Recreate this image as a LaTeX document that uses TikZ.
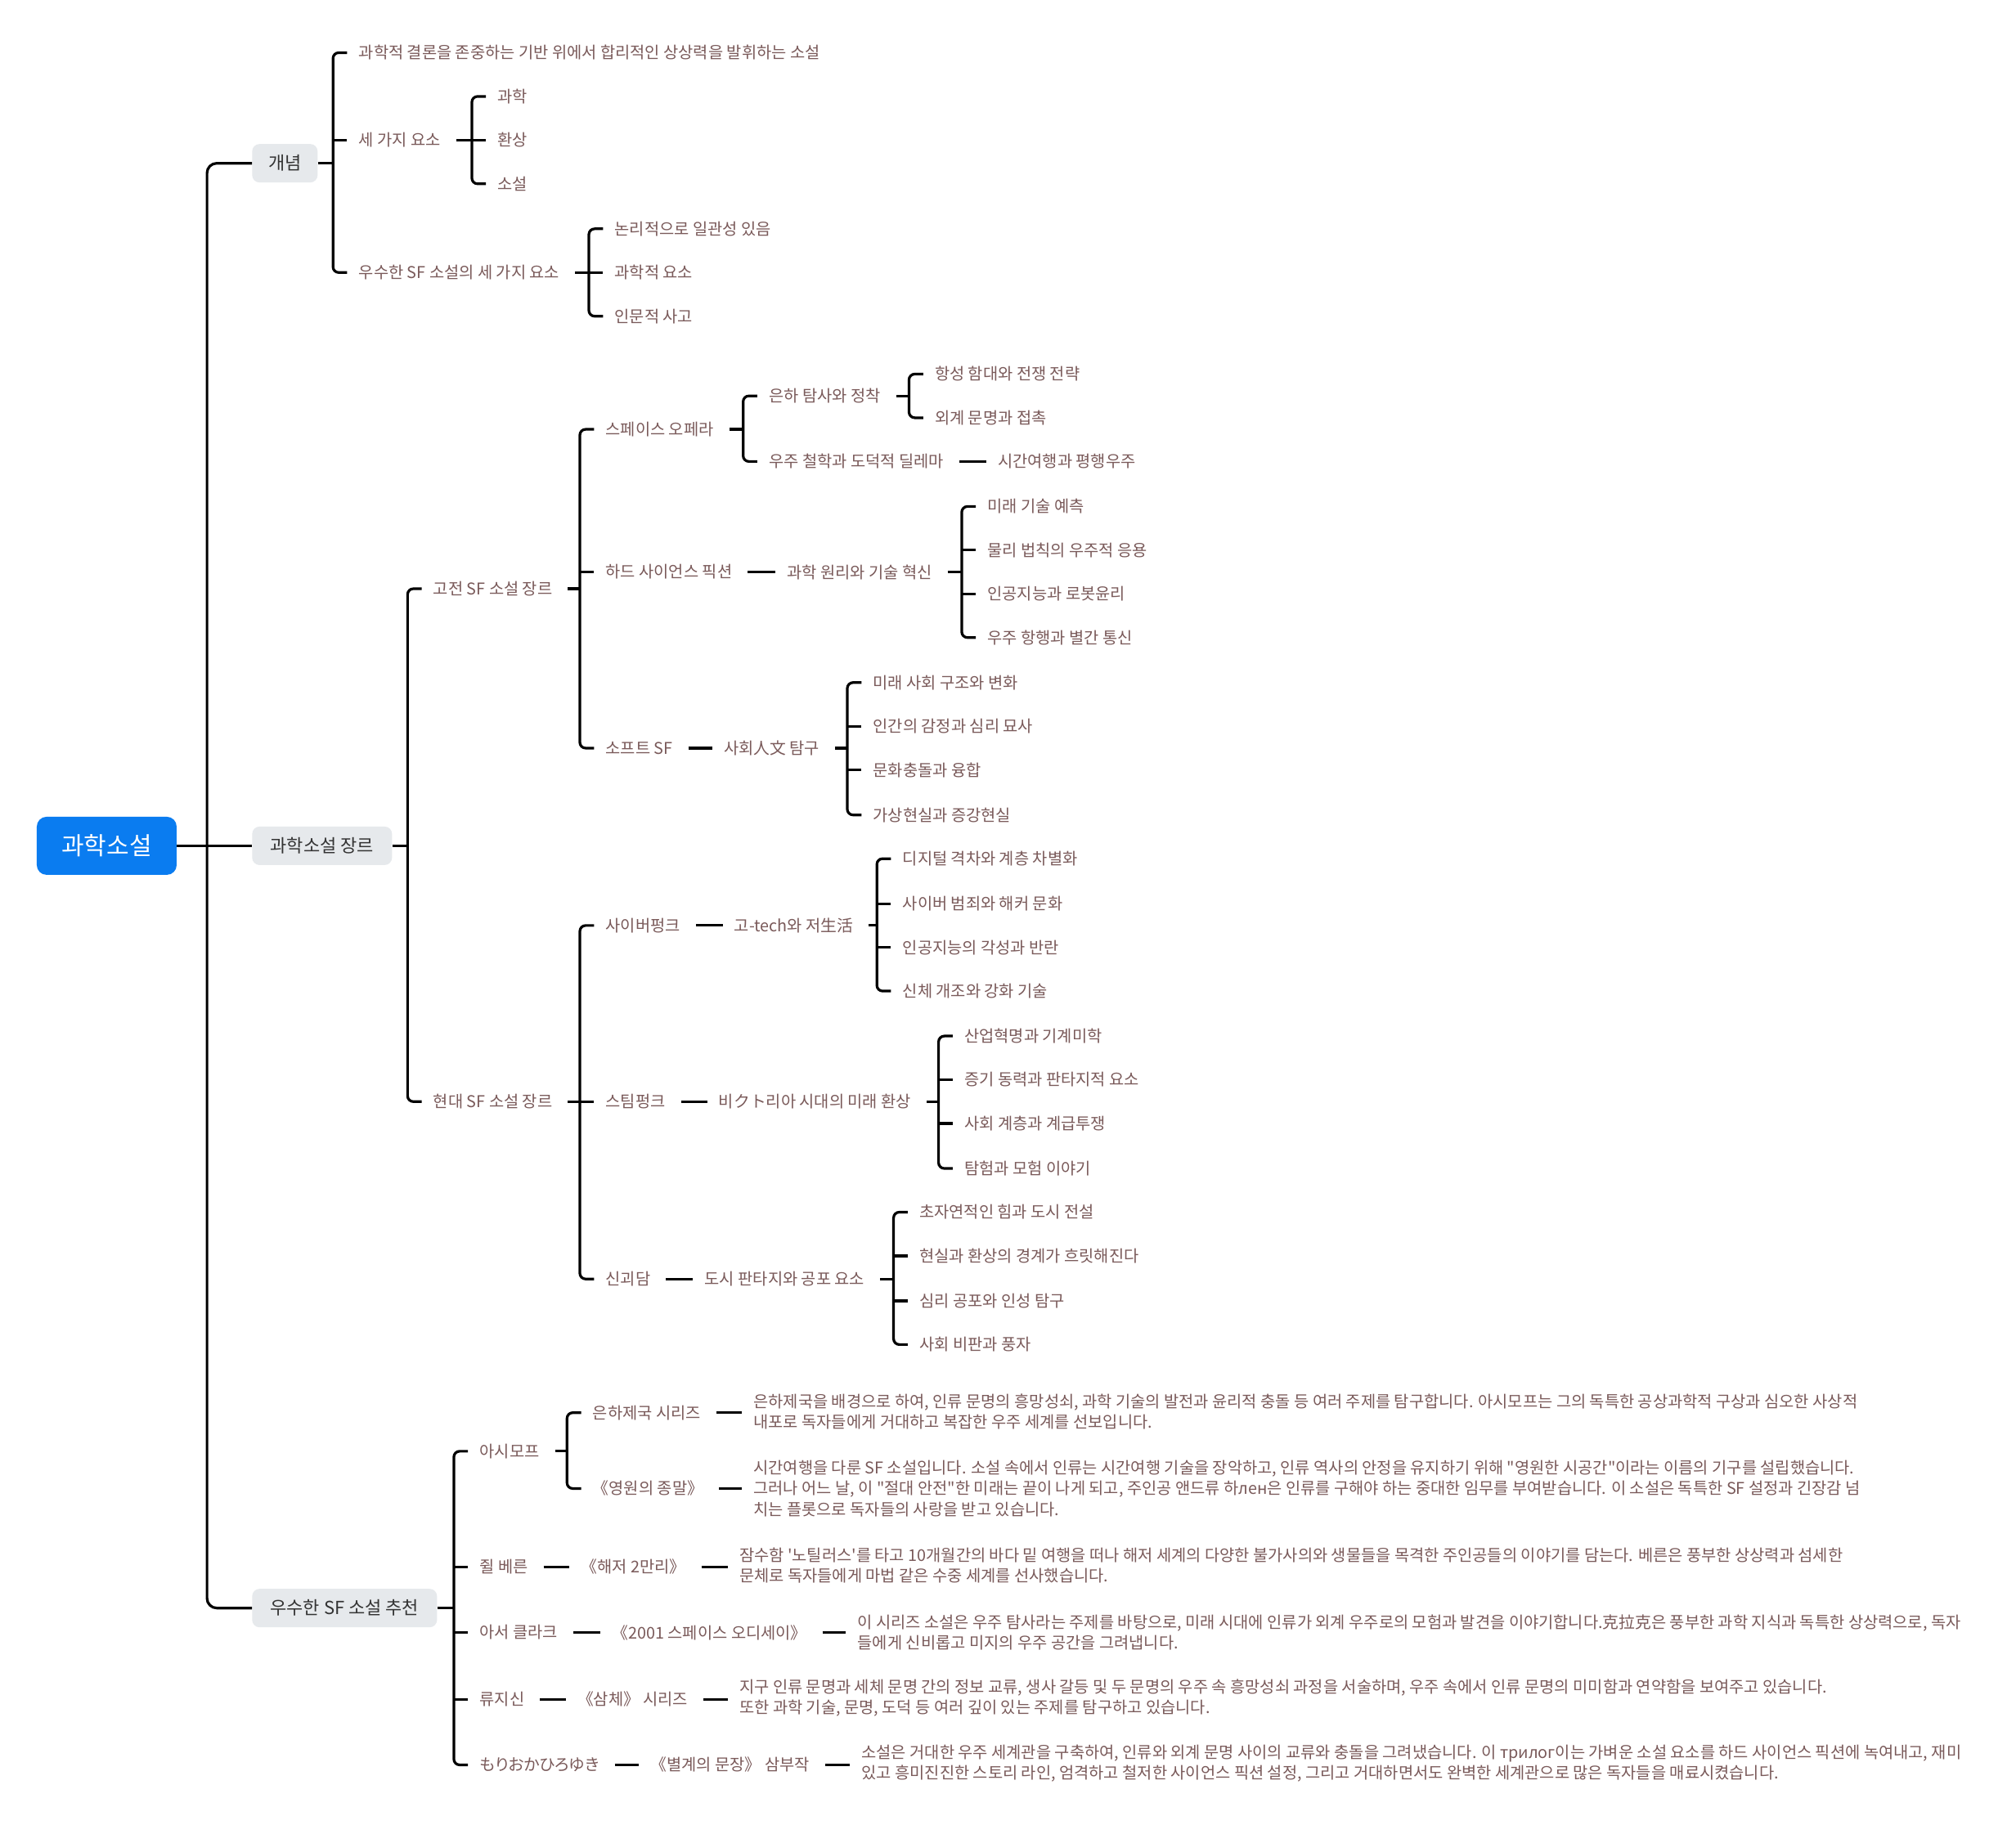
\documentclass[tikz,border=0pt]{standalone}
\usepackage{fontspec}
\setmainfont{Noto Sans CJK KR}[Ligatures=TeXOff]
\usetikzlibrary{calc}
\definecolor{leafc}{HTML}{7A5A5A}
\definecolor{rootc}{HTML}{0A7CF0}
\definecolor{boxc}{HTML}{E6E9EC}
\tikzset{
  conn/.style={line width=3.2pt, black},
  leaf/.style={anchor=west, inner sep=0pt, text=leafc, font=\fontsize{19.8}{25.2}\selectfont, align=left},
  kana/.style={font=\fontsize{19.8}{25.2}\selectfont\addfontfeatures{RawFeature=+palt}},
  lone/.style={anchor=west, rounded corners=9pt, fill=boxc, text=black!80, minimum height=47pt, inner sep=0pt, font=\fontsize{22}{26}\selectfont},
  rootbox/.style={rounded corners=12pt, fill=rootc, text=white, minimum width=171pt, minimum height=71pt, inner sep=0pt, font=\fontsize{30}{36}\selectfont},
}
% bracket: parent, parent gap, first child, last child
\newcommand{\brkt}[4]{%
  \coordinate (#1b) at ($(#3.west)+(-20,0)$);
  \draw[conn, rounded corners=7pt] ($(#3.west)+(-9,0)$) -- (#3.west -| #1b) -- (#4.west -| #1b) -- ($(#4.west)+(-9,0)$);
  \draw[conn] ($(#1.east)+(#2,0)$) -- (#1.east -| #1b);
}
\newcommand{\brstub}[2]{\draw[conn] (#2.west -| #1b) -- ($(#2.west)+(-9,0)$);}
\newcommand{\lnk}[2]{\draw[conn] ($(#1.east)+(12,0)$) -- ($(#1.east -| #2.west)+(-9,0)$);}
\begin{document}
\begin{tikzpicture}[x=1.572pt,y=-1.572pt]
\useasboundingbox (0,0) rectangle (1568,1433.2);
\fill[white] (0,0) rectangle (1568,1433.2);

% main nodes
\node[rootbox] (root) at (83,658) {과학소설};
\node[lone, minimum width=80pt] (c1) at (196,127) {개념};
\node[lone, minimum width=171pt] (c2) at (196,658) {과학소설 장르};
\node[lone, minimum width=226pt] (c3) at (196,1251) {우수한 SF 소설 추천};

% 개념
\node[leaf] (a1) at (279,41) {과학적 결론을 존중하는 기반 위에서 합리적인 상상력을 발휘하는 소설};
\node[leaf] (a2) at (279,109) {세 가지 요소};
\node[leaf] (a3) at (279,212) {우수한 SF 소설의 세 가지 요소};
\node[leaf] (a21) at (387,75) {과학};
\node[leaf] (a22) at (387,109) {환상};
\node[leaf] (a23) at (387,143) {소설};
\node[leaf] (a31) at (478,178) {논리적으로 일관성 있음};
\node[leaf] (a32) at (478,212) {과학적 요소};
\node[leaf] (a33) at (478,246) {인문적 사고};

% 과학소설 장르
\node[leaf] (g1) at (337,458) {고전 SF 소설 장르};
\node[leaf] (g2) at (337,857) {현대 SF 소설 장르};
\node[leaf] (g11) at (471,334) {스페이스 오페라};
\node[leaf] (g12) at (471,445) {하드 사이언스 픽션};
\node[leaf] (g13) at (471,582) {소프트 SF};
\node[leaf] (g111) at (598,308) {은하 탐사와 정착};
\node[leaf] (g112) at (598,359) {우주 철학과 도덕적 딜레마};
\node[leaf] (g1111) at (727,291) {항성 함대와 전쟁 전략};
\node[leaf] (g1112) at (727,325) {외계 문명과 접촉};
\node[leaf] (g1121) at (776,359) {시간여행과 평행우주};
\node[leaf] (g121) at (612,445) {과학 원리와 기술 혁신};
\node[leaf] (g1211) at (768,394) {미래 기술 예측};
\node[leaf] (g1212) at (768,428) {물리 법칙의 우주적 응용};
\node[leaf] (g1213) at (768,462) {인공지능과 로봇윤리};
\node[leaf] (g1214) at (768,496) {우주 항행과 별간 통신};
\node[leaf] (g131) at (563,582) {사회人文 탐구};
\node[leaf] (g1311) at (679,531) {미래 사회 구조와 변화};
\node[leaf] (g1312) at (679,565) {인간의 감정과 심리 묘사};
\node[leaf] (g1313) at (679,599) {문화충돌과 융합};
\node[leaf] (g1314) at (679,634) {가상현실과 증강현실};

\node[leaf] (g21) at (471,720) {사이버펑크};
\node[leaf] (g22) at (471,857) {스팀펑크};
\node[leaf] (g23) at (471,995) {신괴담};
\node[leaf] (g211) at (571,720) {고-tech와 저生活};
\node[leaf] (g2111) at (702,668) {디지털 격차와 계층 차별화};
\node[leaf] (g2112) at (702,703) {사이버 범죄와 해커 문화};
\node[leaf] (g2113) at (702,737) {인공지능의 각성과 반란};
\node[leaf] (g2114) at (702,771) {신체 개조와 강화 기술};
\node[leaf] (g221) at (559,857) {비クト리아 시대의 미래 환상};
\node[leaf] (g2211) at (750,806) {산업혁명과 기계미학};
\node[leaf] (g2212) at (750,840) {증기 동력과 판타지적 요소};
\node[leaf] (g2213) at (750,874) {사회 계층과 계급투쟁};
\node[leaf] (g2214) at (750,909) {탐험과 모험 이야기};
\node[leaf] (g231) at (548,995) {도시 판타지와 공포 요소};
\node[leaf] (g2311) at (715,943) {초자연적인 힘과 도시 전설};
\node[leaf] (g2312) at (715,977) {현실과 환상의 경계가 흐릿해진다};
\node[leaf] (g2313) at (715,1012) {심리 공포와 인성 탐구};
\node[leaf] (g2314) at (715,1046) {사회 비판과 풍자};

% 우수한 SF 소설 추천
\node[leaf] (r1) at (373,1129) {아시모프};
\node[leaf] (r2) at (373,1219) {쥘 베른};
\node[leaf] (r3) at (373,1270) {아서 클라크};
\node[leaf] (r4) at (373,1322) {류지신};
\node[leaf, kana] (r5) at (373,1373) {もりおかひろゆき};
\node[leaf] (r11) at (461,1099) {은하제국 시리즈};
\node[leaf] (r12) at (461,1158) {《영원의 종말》};
\node[leaf] (p11) at (586,1098) {은하제국을 배경으로 하여, 인류 문명의 흥망성쇠, 과학 기술의 발전과 윤리적 충돌 등 여러 주제를 탐구합니다. 아시모프는 그의 독특한 공상과학적 구상과 심오한 사상적\\내포로 독자들에게 거대하고 복잡한 우주 세계를 선보입니다.};
\node[leaf] (p12) at (586,1158) {시간여행을 다룬 SF 소설입니다. 소설 속에서 인류는 시간여행 기술을 장악하고, 인류 역사의 안정을 유지하기 위해 "영원한 시공간"이라는 이름의 기구를 설립했습니다.\\그러나 어느 날, 이 "절대 안전"한 미래는 끝이 나게 되고, 주인공 앤드류 하лен은 인류를 구해야 하는 중대한 임무를 부여받습니다. 이 소설은 독특한 SF 설정과 긴장감 넘\\치는 플롯으로 독자들의 사랑을 받고 있습니다.};
\node[leaf] (r21) at (452,1219) {《해저 2만리》};
\node[leaf] (p2) at (575,1218) {잠수함 '노틸러스'를 타고 10개월간의 바다 밑 여행을 떠나 해저 세계의 다양한 불가사의와 생물들을 목격한 주인공들의 이야기를 담는다. 베른은 풍부한 상상력과 섬세한\\문체로 독자들에게 마법 같은 수중 세계를 선사했습니다.};
\node[leaf] (r31) at (476,1270) {《2001 스페이스 오디세이》};
\node[leaf] (p3) at (667,1270) {이 시리즈 소설은 우주 탐사라는 주제를 바탕으로, 미래 시대에 인류가 외계 우주로의 모험과 발견을 이야기합니다.克拉克은 풍부한 과학 지식과 독특한 상상력으로, 독자\\들에게 신비롭고 미지의 우주 공간을 그려냅니다.};
\node[leaf] (r41) at (449,1322) {《삼체》 시리즈};
\node[leaf] (p4) at (575,1321) {지구 인류 문명과 세체 문명 간의 정보 교류, 생사 갈등 및 두 문명의 우주 속 흥망성쇠 과정을 서술하며, 우주 속에서 인류 문명의 미미함과 연약함을 보여주고 있습니다.\\또한 과학 기술, 문명, 도덕 등 여러 깊이 있는 주제를 탐구하고 있습니다.};
\node[leaf] (r51) at (506,1373) {《별계의 문장》 삼부작};
\node[leaf] (p5) at (670,1372) {소설은 거대한 우주 세계관을 구축하여, 인류와 외계 문명 사이의 교류와 충돌을 그려냈습니다. 이 трилог이는 가벼운 소설 요소를 하드 사이언스 픽션에 녹여내고, 재미\\있고 흥미진진한 스토리 라인, 엄격하고 철저한 사이언스 픽션 설정, 그리고 거대하면서도 완벽한 세계관으로 많은 독자들을 매료시켰습니다.};

% trunk
\coordinate (tk) at ($(c1.west)+(-35,0)$);
\draw[conn, rounded corners=12pt] (c1.west) -- (c1.west -| tk) -- (c3.west -| tk) -- (c3.west);
\draw[conn] (root.east) -- (c2.west);

% brackets
\brkt{c1}{0}{a1}{a3}\brstub{c1}{a2}
\brkt{a2}{12}{a21}{a23}\brstub{a2}{a22}
\brkt{a3}{12}{a31}{a33}\brstub{a3}{a32}
\brkt{c2}{0}{g1}{g2}
\brkt{g1}{12}{g11}{g13}\brstub{g1}{g12}
\brkt{g11}{12}{g111}{g112}
\brkt{g111}{12}{g1111}{g1112}
\lnk{g112}{g1121}
\lnk{g12}{g121}
\brkt{g121}{12}{g1211}{g1214}\brstub{g121}{g1212}\brstub{g121}{g1213}
\lnk{g13}{g131}
\brkt{g131}{12}{g1311}{g1314}\brstub{g131}{g1312}\brstub{g131}{g1313}
\brkt{g2}{12}{g21}{g23}\brstub{g2}{g22}
\lnk{g21}{g211}
\brkt{g211}{12}{g2111}{g2114}\brstub{g211}{g2112}\brstub{g211}{g2113}
\lnk{g22}{g221}
\brkt{g221}{12}{g2211}{g2214}\brstub{g221}{g2212}\brstub{g221}{g2213}
\lnk{g23}{g231}
\brkt{g231}{12}{g2311}{g2314}\brstub{g231}{g2312}\brstub{g231}{g2313}
\brkt{c3}{0}{r1}{r5}\brstub{c3}{r2}\brstub{c3}{r3}\brstub{c3}{r4}
\brkt{r1}{12}{r11}{r12}
\lnk{r11}{p11}
\lnk{r12}{p12}
\lnk{r2}{r21}\lnk{r21}{p2}
\lnk{r3}{r31}\lnk{r31}{p3}
\lnk{r4}{r41}\lnk{r41}{p4}
\lnk{r5}{r51}\lnk{r51}{p5}
\end{tikzpicture}
\end{document}
